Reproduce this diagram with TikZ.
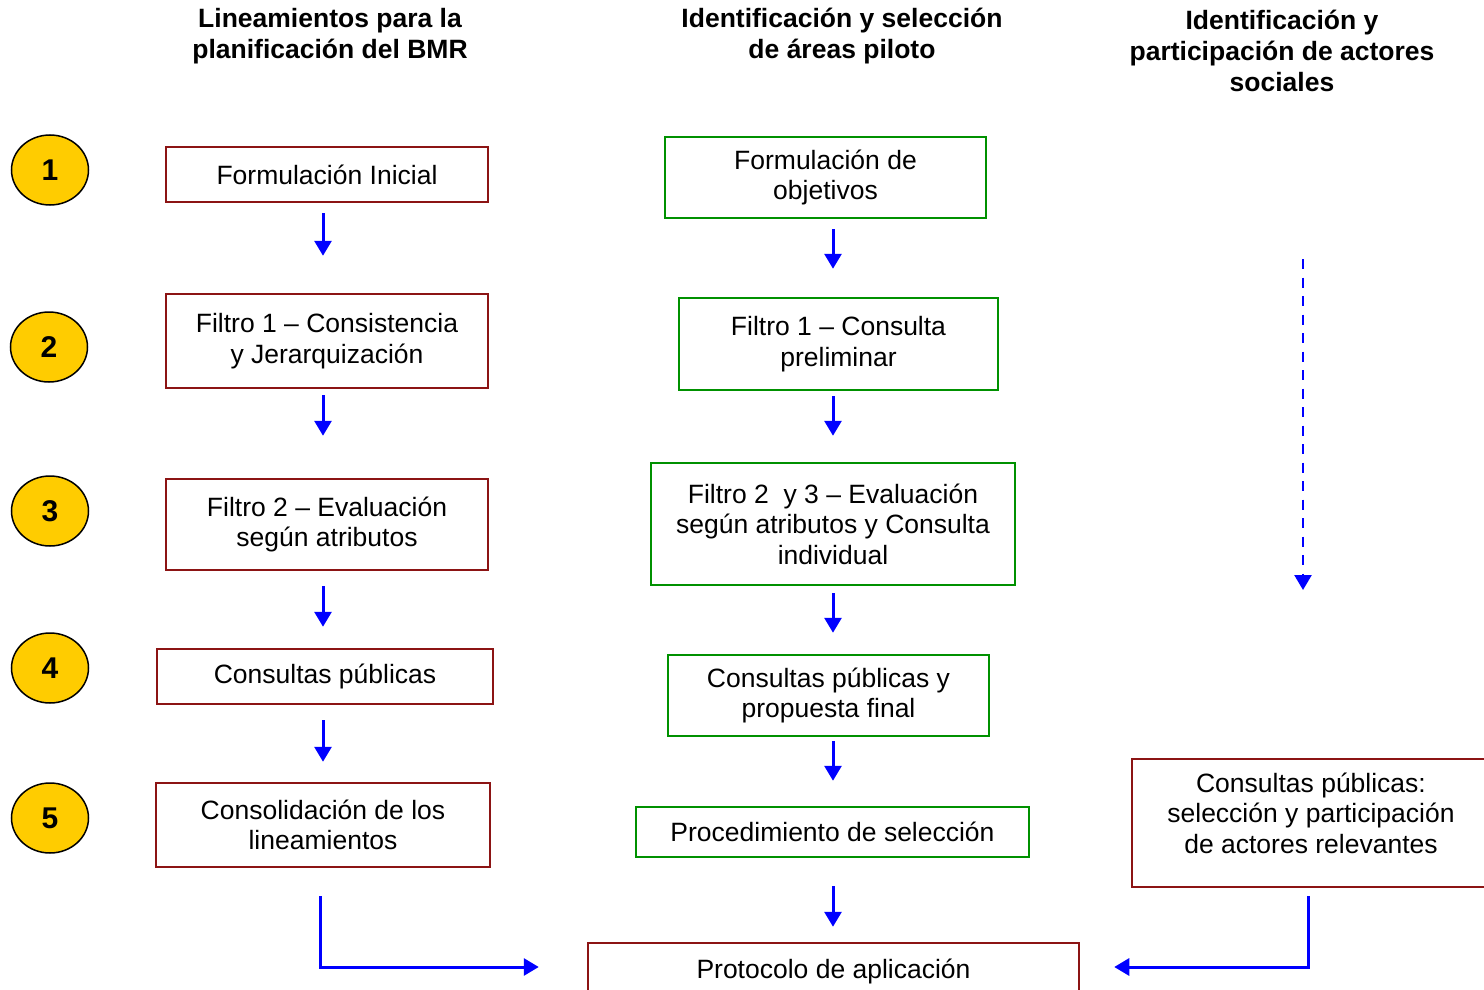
\documentclass[tikz,border=0pt]{standalone}
\usepackage{fontspec}
\setmainfont{Liberation Sans}
\usetikzlibrary{arrows.meta,shapes.geometric}
\definecolor{boxred}{RGB}{140,20,20}
\definecolor{boxgreen}{RGB}{0,145,0}
\definecolor{arrblue}{RGB}{0,0,255}
\definecolor{numyellow}{RGB}{255,204,0}
\begin{document}
\begin{tikzpicture}[x=1pt,y=-1pt,
  txt/.style={font=\fontsize{26.5}{30.5}\selectfont, align=center, inner sep=0pt},
  hdr/.style={txt, font=\fontsize{26.5}{31}\selectfont\bfseries},
  redbox/.style={txt, draw=boxred, line width=2.5pt, rectangle},
  greenbox/.style={txt, draw=boxgreen, line width=2.5pt, rectangle},
  num/.style={ellipse, draw=black, line width=1.5pt, fill=numyellow, minimum width=77pt, minimum height=70pt, inner sep=0pt, font=\fontsize{30}{32}\selectfont\bfseries},
  arr/.style={draw=arrblue, line width=3pt, -{Triangle[length=15pt,width=17pt]}},
]
\useasboundingbox (0,0) rectangle (1484,990);
\clip (0,0) rectangle (1484,990);

% headers
\node[hdr] (h1) at (330,36.5) {Lineamientos para la\\planificación del BMR};
\node[hdr] (h2) at (842,36.5) {Identificación y selección\\de áreas piloto};
\node[hdr] (h3) at (1282,51) {Identificación y\\participación de actores\\sociales};

% numbers
\node[num] (c1) at (50,170) {1};
\node[num] (c2) at (49,347) {2};
\node[num] (c3) at (50,511) {3};
\node[num] (c4) at (50,668) {4};
\node[num] (c5) at (50,818) {5};

% left column
\node[redbox, minimum width=322pt, minimum height=55pt] (r1) at (327,174.5) {Formulación Inicial};
\node[redbox, minimum width=322pt, minimum height=94pt] (r2) at (327,341) {Filtro 1 – Consistencia\\y Jerarquización};
\node[redbox, minimum width=322pt, minimum height=91pt] (r3) at (327,524.5) {Filtro 2 – Evaluación\\según atributos};
\node[redbox, minimum width=336pt, minimum height=55pt] (r4) at (325,676.5) {Consultas públicas};
\node[redbox, minimum width=334pt, minimum height=84pt] (r5) at (323,825) {Consolidación de los\\lineamientos};

% middle column
\node[greenbox, minimum width=321pt, minimum height=81pt] (g1) at (825.5,177.5) {Formulación de\\objetivos};
\node[greenbox, minimum width=319pt, minimum height=92pt] (g2) at (838.5,344) {Filtro 1 – Consulta\\preliminar};
\node[greenbox, minimum width=364pt, minimum height=122pt] (g3) at (833,524) {Filtro 2\ \ y 3 – Evaluación\\según atributos y Consulta\\individual};
\node[greenbox, minimum width=321pt, minimum height=81pt] (g4) at (828.5,695.5) {Consultas públicas y\\propuesta final};
\node[greenbox, minimum width=393pt, minimum height=50pt] (g5) at (832.5,832) {Procedimiento de selección};
\node[redbox, minimum width=491pt, minimum height=56pt] (proto) at (833.5,971) {Protocolo de aplicación};

% right column
\node[redbox, minimum width=358pt, minimum height=128pt, text depth=20pt] (rbox) at (1311,823) {Consultas públicas:\\selección y participación\\de actores relevantes};

% helper coordinates
\coordinate (lx) at (323,0);
\coordinate (lx2) at (320,0);
\coordinate (mx) at (833,0);
\coordinate (rx) at (1308,0);
\coordinate (d1) at (1303,259);
\coordinate (d2) at (1303,590);
\coordinate (by) at (0,967);

% left arrows
\draw[arr, shorten <=10pt, shorten >=37pt] (r1.south -| lx) -- (r2.north -| lx);
\draw[arr, shorten <=6pt, shorten >=42pt] (r2.south -| lx) -- (r3.north -| lx);
\draw[arr, shorten <=15pt, shorten >=21pt] (r3.south -| lx) -- (r4.north -| lx);
\draw[arr, shorten <=15pt, shorten >=20pt] (r4.south -| lx) -- (r5.north -| lx);

% middle arrows
\draw[arr, shorten <=10pt, shorten >=28pt] (g1.south -| mx) -- (g2.north -| mx);
\draw[arr, shorten <=5pt, shorten >=26pt] (g2.south -| mx) -- (g3.north -| mx);
\draw[arr, shorten <=7pt, shorten >=21pt] (g3.south -| mx) -- (g4.north -| mx);
\draw[arr, shorten <=4pt, shorten >=25pt] (g4.south -| mx) -- (g5.north -| mx);
\draw[arr, shorten <=28pt, shorten >=15pt] (g5.south -| mx) -- (proto.north -| mx);

% bottom connectors
\draw[arr, shorten <=28pt, shorten >=48pt] (r5.south -| lx2) |- (proto.west |- by);
\draw[arr, shorten <=8pt, shorten >=34pt] (rbox.south -| rx) |- (proto.east |- by);

% dashed arrow
\draw[arr, line width=2.5pt, dash pattern=on 10pt off 8.5pt] (d1) -- (d2);
\end{tikzpicture}
\end{document}
